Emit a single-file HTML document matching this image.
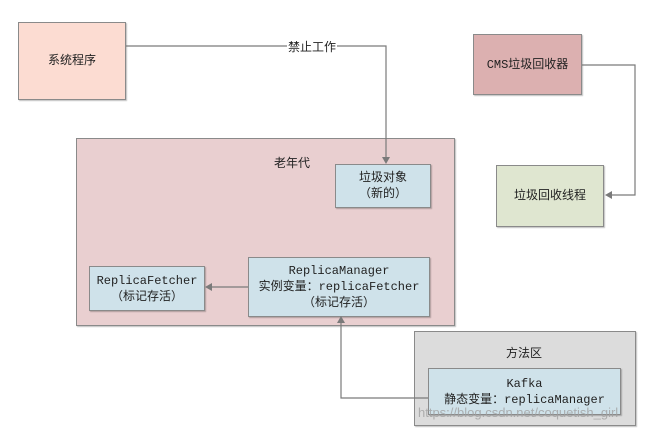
<!DOCTYPE html>
<html><head><meta charset="utf-8"><style>
html,body{margin:0;padding:0;background:#fff;}
body{width:665px;height:434px;position:relative;overflow:hidden;font-family:"Liberation Mono","Noto Sans CJK SC",monospace;font-size:12px;color:#222;}
.b{position:absolute;box-sizing:border-box;border:1.5px solid #8a8a8a;display:flex;align-items:center;justify-content:center;text-align:center;line-height:16px;box-shadow:1px 1px 1px rgba(0,0,0,.25);}
.t{position:absolute;font-size:12px;}
</style></head><body>
<div class="b" style="left:18px;top:22px;width:108px;height:78px;background:#fcdcd2;">系统程序</div>
<div class="b" style="left:473px;top:34px;width:109px;height:61px;background:#dcb0b0;">CMS垃圾回收器</div>
<div class="b" style="left:496px;top:165px;width:108px;height:62px;background:#dfe6d0;">垃圾回收线程</div>
<div class="b" style="left:76px;top:138px;width:379px;height:188px;background:#e9cfd0;"></div>
<div class="t" style="left:274px;top:154px;">老年代</div>
<div class="b" style="left:335px;top:164px;width:96px;height:44px;background:#cfe2ea;">垃圾对象<br>（新的）</div>
<div class="b" style="left:89px;top:266px;width:116px;height:45px;background:#cfe2ea;">ReplicaFetcher<br>（标记存活）</div>
<div class="b" style="left:248px;top:257px;width:182px;height:60px;background:#cfe2ea;">ReplicaManager<br>实例变量：replicaFetcher<br>（标记存活）</div>
<div class="b" style="left:414px;top:331px;width:222px;height:95px;background:#dcdcdc;"></div>
<div class="t" style="left:506px;top:344px;">方法区</div>
<div class="b" style="left:428px;top:368px;width:193px;height:47px;background:#cfe2ea;">Kafka<br>静态变量：replicaManager</div>
<svg width="665" height="434" style="position:absolute;left:0;top:0;">
<g fill="none" stroke="#7a7a7a" stroke-width="1.2">
<path d="M126 46 H386 V158"/>
<path d="M582 65 H635 V195 H612"/>
<path d="M248 287 H212"/>
<path d="M428 398 H341 V322"/>
</g>
<g fill="#7a7a7a">
<path d="M382 157 L390 157 L386 164 Z"/>
<path d="M612 191 L612 199 L605 195 Z"/>
<path d="M212 283 L212 291 L205 287 Z"/>
<path d="M337 323 L345 323 L341 316 Z"/>
</g>
</svg>
<div class="t" style="left:287px;top:38px;background:#fff;padding:0 1px;">禁止工作</div>
<div class="t" style="left:418px;top:405px;color:rgba(160,160,160,.8);font-family:'Liberation Sans',sans-serif;font-size:13px;">https://blog.csdn.net/coquetish_girl</div>
</body></html>
